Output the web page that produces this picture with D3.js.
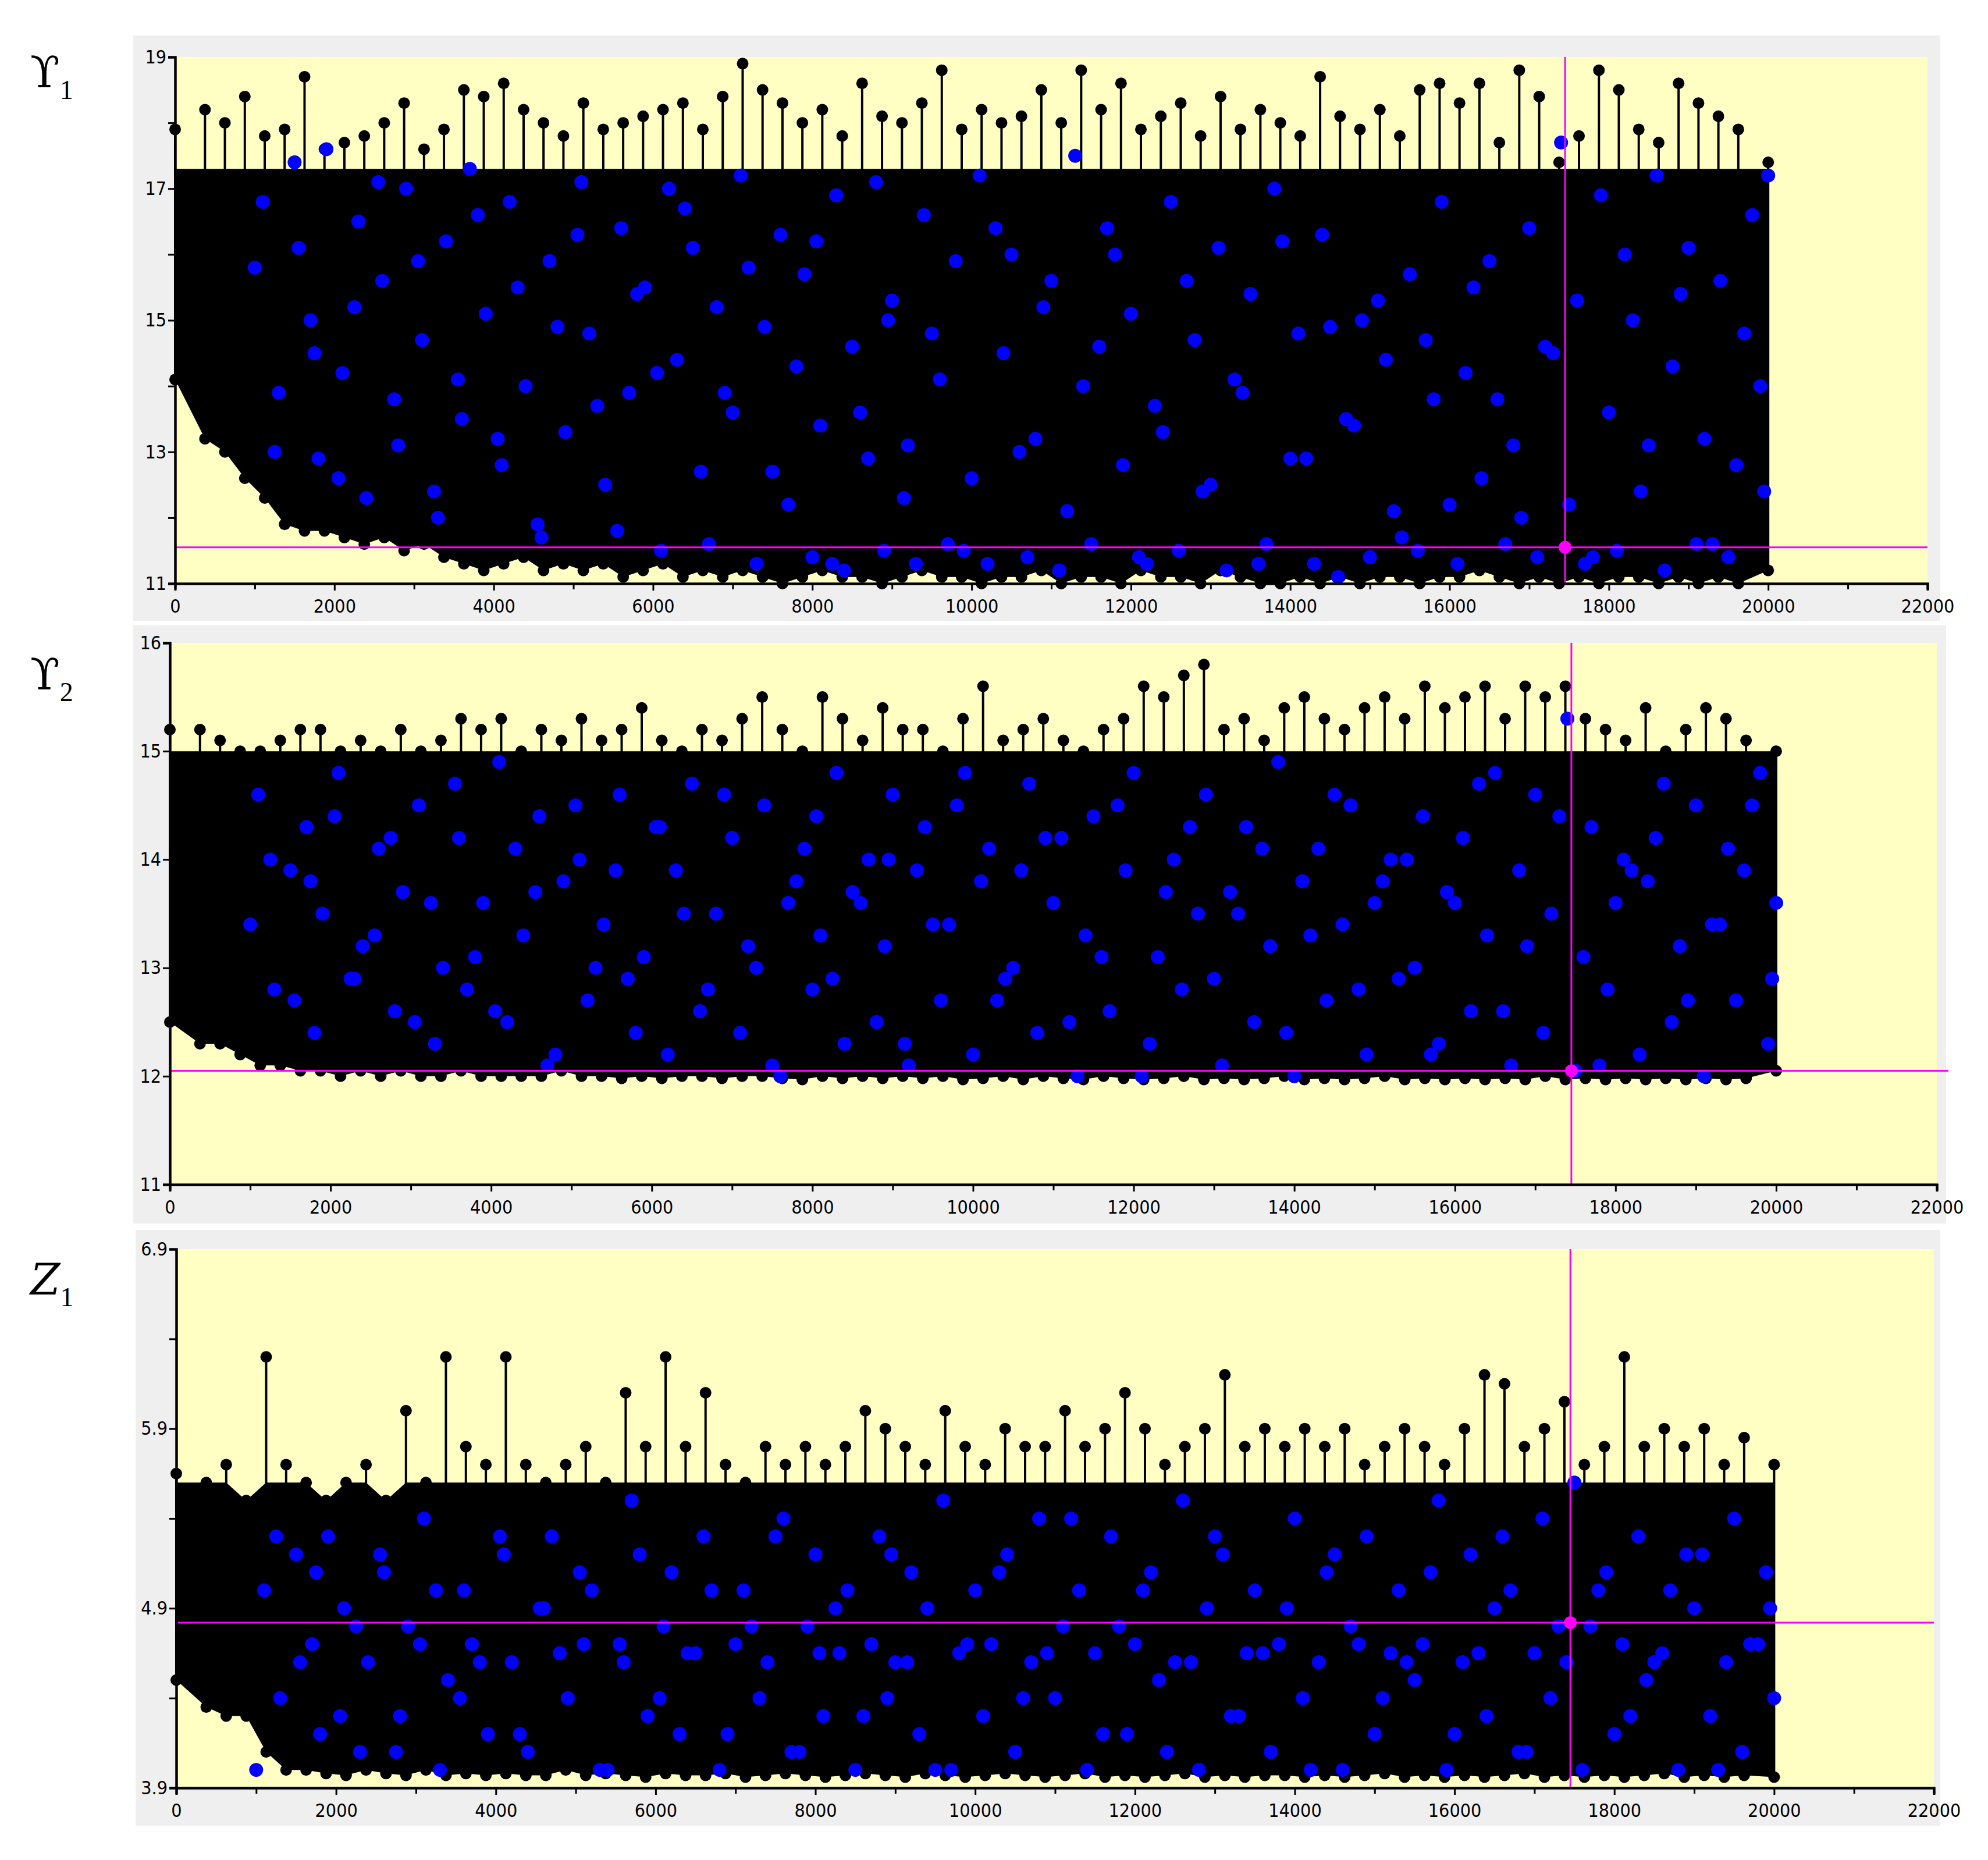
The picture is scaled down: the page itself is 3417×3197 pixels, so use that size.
<!DOCTYPE html>
<html><head><meta charset="utf-8">
<script src="https://cdn.jsdelivr.net/npm/d3@7"></script>
<style>body{margin:0;background:#fff}</style></head>
<body><svg id="c" width="3417" height="3197"></svg>
<script>
// per-250-iteration envelope (max / min) of the black trace
const hi1=[17.9,18.2,18.0,18.4,17.8,17.9,18.7,17.6,17.7,17.8,18.0,18.3,17.6,17.9,18.5,18.4,18.6,18.2,18.0,17.8,18.3,17.9,18.0,18.1,18.2,18.3,17.9,18.4,18.9,18.5,18.3,18.0,18.2,17.8,18.6,18.1,18.0,18.3,18.8,17.9,18.2,18.0,18.1,18.5,18.0,18.8,18.2,18.6,17.9,18.1,18.3,17.8,18.4,17.9,18.2,18.0,17.8,18.7,18.1,17.9,18.2,17.8,18.5,18.6,18.3,18.6,17.7,18.8,18.4,17.4,17.8,18.8,18.5,17.9,17.7,18.6,18.3,18.1,17.9,17.4];
const lo1=[14.1,13.2,13.0,12.6,12.3,11.9,11.8,11.8,11.7,11.6,11.7,11.5,11.6,11.4,11.3,11.2,11.3,11.4,11.2,11.3,11.2,11.3,11.1,11.2,11.3,11.1,11.2,11.1,11.2,11.1,11.0,11.1,11.2,11.1,11.1,11.0,11.1,11.2,11.1,11.1,11.0,11.1,11.1,11.2,11.0,11.1,11.1,11.0,11.2,11.1,11.1,11.0,11.2,11.1,11.0,11.0,11.1,11.0,11.1,11.0,11.1,11.1,11.0,11.1,11.1,11.2,11.1,11.0,11.1,11.0,11.1,11.0,11.1,11.1,11.0,11.1,11.0,11.1,11.0,11.2];
const hi2=[15.2,15.2,15.1,15.0,15.0,15.1,15.2,15.2,15.0,15.1,15.0,15.2,15.0,15.1,15.3,15.2,15.3,15.0,15.2,15.1,15.3,15.1,15.2,15.4,15.1,15.0,15.2,15.1,15.3,15.5,15.2,15.0,15.5,15.3,15.1,15.4,15.2,15.2,15.0,15.3,15.6,15.1,15.2,15.3,15.1,15.0,15.2,15.3,15.6,15.5,15.7,15.8,15.2,15.3,15.1,15.4,15.5,15.3,15.2,15.4,15.5,15.3,15.6,15.4,15.5,15.6,15.3,15.6,15.5,15.6,15.3,15.2,15.1,15.4,15.0,15.2,15.4,15.3,15.1,15.0];
const lo2=[12.5,12.3,12.3,12.2,12.1,12.1,12.05,12.05,12.0,12.05,12.0,12.05,12.0,12.0,12.05,12.0,12.0,12.0,12.0,12.05,12.0,12.0,11.98,12.0,11.98,12.0,12.0,11.98,12.0,12.0,11.98,11.97,12.0,11.98,12.0,11.98,12.0,11.98,12.0,11.97,11.98,12.0,11.97,12.0,11.98,11.97,12.0,11.98,11.97,11.98,12.0,11.97,11.98,11.97,11.98,12.0,11.97,11.98,11.97,11.98,12.0,11.97,11.98,11.97,11.98,11.97,11.98,11.97,12.0,11.97,11.98,11.97,11.98,11.97,11.98,11.97,11.98,11.97,11.98,12.05];
const hi3=[5.65,5.6,5.7,5.5,6.3,5.7,5.6,5.5,5.6,5.7,5.5,6.0,5.6,6.3,5.8,5.7,6.3,5.7,5.6,5.7,5.8,5.6,6.1,5.8,6.3,5.8,6.1,5.7,5.6,5.8,5.7,5.8,5.7,5.8,6.0,5.9,5.8,5.7,6.0,5.8,5.7,5.9,5.8,5.8,6.0,5.8,5.9,6.1,5.9,5.7,5.8,5.9,6.2,5.8,5.9,5.8,5.9,5.8,5.9,5.7,5.8,5.9,5.8,5.7,5.9,6.2,6.15,5.8,5.9,6.05,5.7,5.8,6.3,5.8,5.9,5.8,5.9,5.7,5.85,5.7];
const lo3=[4.5,4.35,4.3,4.3,4.1,4.0,4.0,3.98,3.97,4.0,3.98,3.97,4.0,3.97,3.98,3.97,3.98,3.97,3.97,4.0,3.97,3.98,3.97,3.96,3.98,3.97,3.97,3.98,3.96,3.97,3.98,3.97,3.96,3.97,3.98,3.97,3.96,3.98,3.97,3.96,3.97,3.98,3.97,3.96,3.97,3.98,3.96,3.97,3.96,3.97,3.98,3.96,3.97,3.96,3.97,3.97,3.96,3.97,3.96,3.97,3.98,3.96,3.97,3.96,3.97,3.96,3.97,3.98,3.96,3.97,3.96,3.97,3.96,3.97,3.98,3.96,3.97,3.96,3.97,3.96];
// upper edge of the solid part of each trace (individual spikes stick out above it)
const bandTop=[17.3,15.0,5.6];
// highlighted (blue) samples: iteration and value in each panel
const blueX=[1100,1300,1500,1700,1800,1900,2100,2300,2400,2600,2800,2900,3100,3300,3400,3600,3700,3900,4100,4200,4400,4600,4700,4900,5100,5200,5400,5600,5700,5900,6100,6200,6300,6500,6600,6800,7000,7100,7300,7400,7600,7700,7900,8000,8100,8300,8400,8500,8700,8800,8900,9000,9200,9300,9400,9600,9700,9800,10000,10100,10200,10400,10500,10700,10800,11000,11100,11300,11400,11500,11700,11900,12000,12200,12300,12500,12600,12800,12900,13100,13200,13400,13500,13700,13800,14000,14100,14300,14400,14600,14700,14900,15000,15200,15300,15500,15600,15800,15900,16100,16200,16400,16500,16700,16800,17000,17100,17200,17400,17500,17600,17700,17900,18000,18100,18300,18400,18600,18700,18800,19000,19100,19200,19400,19500,19600,19800,19900,20000,
 1000,1250,1550,1750,2050,2250,2550,2750,3050,3250,3550,3800,4050,4300,4550,4800,5050,5300,5550,5800,6050,6400,6700,6900,7200,7500,7800,8050,8250,8600,8950,9150,9500,9900,10300,10600,10900,11200,11600,11800,12100,12400,12700,13000,13300,13600,13900,14200,14500,14800,15100,15400,15700,16000,16300,16600,16900,17300,17800,18200,18500,18900,19300,19700,19950];
const blueY1=[16.8,13.9,17.4,15.0,12.9,17.6,14.2,16.5,12.3,15.6,13.1,17.0,14.7,12.0,16.2,13.5,17.3,15.1,12.8,16.8,14.0,11.7,15.9,13.3,17.1,14.8,12.5,16.4,13.9,15.5,11.5,17.0,14.4,16.1,12.7,15.2,13.6,17.2,11.3,14.9,16.3,12.2,15.7,11.4,13.4,16.9,11.2,14.6,12.9,17.1,11.5,15.3,13.1,11.3,16.6,14.1,11.6,15.9,12.6,17.2,11.3,14.5,16.0,11.4,13.2,15.6,11.2,17.5,14.0,11.6,16.4,12.8,15.1,11.3,13.7,16.8,11.5,14.7,12.4,16.1,11.2,13.9,15.4,11.6,17.0,12.9,14.8,11.3,16.3,11.1,13.5,15.0,11.4,14.4,12.1,15.7,11.5,13.8,16.8,11.3,14.2,12.6,15.9,11.6,13.1,16.4,11.4,14.6,17.7,12.2,15.3,11.3,16.9,13.6,11.5,15.0,12.4,17.2,11.2,14.3,16.1,11.6,13.2,15.6,11.4,12.8,16.6,14.0,17.2,
 15.8,13.0,16.1,14.5,12.6,15.2,17.1,13.8,15.9,12.4,14.1,16.6,13.2,15.5,11.9,14.9,16.3,13.7,11.8,15.4,14.2,16.7,11.6,13.9,15.8,12.7,14.3,16.2,11.3,13.6,15.0,12.3,14.8,11.5,16.4,13.0,15.2,12.1,14.6,16.0,11.4,13.3,15.6,12.5,14.1,11.3,16.2,12.9,14.9,13.4,15.3,11.7,14.7,12.2,15.5,13.8,12.0,14.5,11.4,16.0,13.1,15.4,11.6,14.8,12.4];
const blueY2=[14.6,12.8,13.9,14.3,12.4,13.5,14.8,12.9,13.2,14.1,12.6,13.7,14.5,12.3,13.0,14.2,12.8,13.6,14.9,12.5,13.3,14.4,12.1,13.8,14.0,12.7,13.4,14.6,12.9,13.1,14.3,12.2,13.9,14.7,12.6,13.5,14.2,12.4,13.0,14.5,12.0,13.6,14.1,12.8,13.3,14.8,12.3,13.7,14.0,12.5,13.2,14.6,12.1,13.9,14.3,12.7,13.4,14.5,12.2,13.8,14.1,12.9,13.0,14.7,12.4,13.6,14.2,12.0,13.3,14.4,12.6,13.9,14.8,12.3,13.1,14.0,12.8,13.5,14.6,12.1,13.7,14.3,12.5,13.2,14.9,12.0,13.8,14.1,12.7,13.4,14.5,12.2,13.6,14.0,12.9,13.0,14.4,12.3,13.7,14.2,12.6,13.3,14.8,12.1,13.9,14.6,12.4,13.5,15.3,12.05,13.1,14.3,12.8,13.6,14.0,12.2,13.8,14.7,12.5,13.2,14.5,12.0,13.4,14.1,12.7,13.9,14.8,12.3,13.6,
 13.4,14.0,12.7,13.8,14.4,12.9,13.3,14.2,12.5,13.6,14.7,13.1,12.6,14.1,13.7,12.2,14.5,13.0,13.9,12.4,14.3,13.5,12.8,14.6,13.2,12.1,13.8,14.4,12.9,13.6,14.0,12.3,13.4,14.8,12.7,13.9,14.2,12.5,13.1,14.5,12.0,13.7,14.3,12.9,13.5,14.1,12.4,13.3,14.6,12.8,13.8,14.0,12.2,13.6,14.7,12.6,13.2,14.4,12.1,13.9,14.2,12.7,13.4,14.5,12.9];
const blueY3=[5.0,4.4,5.2,4.7,4.2,5.3,4.9,4.1,4.6,5.1,4.3,4.8,5.4,4.0,4.5,5.0,4.7,4.2,5.2,4.6,4.1,4.9,5.3,4.4,4.7,5.0,4.0,4.6,5.5,4.3,4.8,5.1,4.2,4.65,5.3,4.0,4.7,5.0,4.4,4.6,5.4,4.1,4.8,5.2,4.3,4.65,5.0,4.0,4.7,5.3,4.4,4.6,5.1,4.2,4.9,5.5,4.0,4.65,5.0,4.3,4.7,5.2,4.1,4.6,5.4,4.4,4.8,5.0,4.0,4.65,5.3,4.2,4.7,5.1,4.5,4.6,5.5,4.0,4.9,5.2,4.3,4.65,5.0,4.1,4.7,5.4,4.4,4.6,5.1,4.0,4.8,5.3,4.2,4.65,5.0,4.5,4.7,5.5,4.0,4.6,5.2,4.3,4.9,5.0,4.1,4.65,5.4,4.4,4.6,5.6,4.0,4.8,5.1,4.2,4.7,5.3,4.5,4.65,5.0,4.0,4.9,5.2,4.3,4.6,5.4,4.1,4.7,5.1,4.4,4.0,5.3,
 4.6,5.1,4.3,4.8,5.2,4.1,4.7,5.0,4.4,4.6,5.3,4.2,4.9,4.65,5.1,4.0,4.7,5.2,4.4,4.65,5.0,4.2,4.8,5.3,4.1,4.65,4.9,4.3,5.2,4.6,4.0,4.7,5.1,4.4,4.65,5.4,4.2,4.8,5.0,4.1,4.6,5.3,4.3,4.65,4.9,4.0,5.2,4.7,4.4,4.6,5.1,4.2,4.65,5.3,4.1,4.8,5.0,4.3,4.6,5.2,4.0,4.7,4.9,4.4,5.1];
const crossX=[17450,17450,17450];
const crossY=[11.55,12.05,4.82];
const panelNames=["ϒ","ϒ","Z"];
const panelSubs=["1","2","1"];
const yDomains=[[11,19],[11,16],[3.9,6.9]];
const yTicks=[[11,13,15,17,19],[11,12,13,14,15,16],[3.9,4.9,5.9,6.9]];
const yMinor=[[12,14,16,18],[],[4.4,5.4,6.4]];
const xTicks=d3.range(0,22001,2000);
const xMinor=d3.range(1000,22000,2000);
const BIN=250;

const svg=d3.select("#c");
const layout=[
 {g:[229,61,3106,1006],p:[301,98,3313,1003],lab:[52,150]},
 {g:[229,1075,3116,1028],p:[292,1105,3329,2036],lab:[52,1185]},
 {g:[233,2114,3102,1024],p:[303,2147,3324,3073],lab:[52,2225]}
];
const his=[hi1,hi2,hi3], los=[lo1,lo2,lo3], bys=[blueY1,blueY2,blueY3];
layout.forEach((L,i)=>{
  svg.append("rect").attr("x",L.g[0]).attr("y",L.g[1]).attr("width",L.g[2]).attr("height",L.g[3]).attr("fill","#efefef");
  const [x0,y0,x1,y1]=L.p;
  svg.append("rect").attr("x",x0).attr("y",y0).attr("width",x1-x0).attr("height",y1-y0).attr("fill","#ffffc4");
  const x=d3.scaleLinear().domain([0,22000]).range([x0,x1]);
  const y=d3.scaleLinear().domain(yDomains[i]).range([y1,y0]);
  const clip="cl"+i;
  svg.append("clipPath").attr("id",clip).append("rect").attr("x",x0-12).attr("y",y0-12).attr("width",x1-x0+24).attr("height",y1-y0+24);
  const g=svg.append("g").attr("clip-path",`url(#${clip})`);
  const hi=his[i], lo=los[i];
  const bins=hi.map((h,k)=>({k,h,l:lo[k],t:Math.min(h,bandTop[i]),xc:k===0?0:(k===hi.length-1?20000:k*BIN+BIN/2)}));
  g.append("path").datum(bins).attr("fill","#000")
    .attr("d",d3.area().x(d=>x(d.xc)).y0(d=>y(Math.max(d.l,yDomains[i][0]))).y1(d=>y(d.t)).curve(d3.curveLinear));
  g.selectAll(".st").data(bins).join("line").attr("x1",d=>x(d.xc)).attr("x2",d=>x(d.xc))
    .attr("y1",d=>y(d.h)).attr("y2",d=>y(d.l)).attr("stroke","#000").attr("stroke-width",4);
  g.selectAll(".mh").data(bins).join("circle").attr("cx",d=>x(d.xc)).attr("cy",d=>y(d.h)).attr("r",10).attr("fill","#000");
  g.selectAll(".ml").data(bins).join("circle").attr("cx",d=>x(d.xc)).attr("cy",d=>y(d.l)).attr("r",10).attr("fill","#000");
  const by=bys[i]; const n=Math.min(blueX.length,by.length);
  g.selectAll(".b").data(d3.range(n)).join("circle").attr("cx",k=>x(blueX[k])).attr("cy",k=>y(by[k])).attr("r",12).attr("fill","#0000ff");
  svg.append("line").attr("x1",x(crossX[i])).attr("x2",x(crossX[i])).attr("y1",y0).attr("y2",y1).attr("stroke","#ff00ff").attr("stroke-width",3);
  svg.append("line").attr("x1",x0).attr("x2",x1+(i==1?20:0)).attr("y1",y(crossY[i])).attr("y2",y(crossY[i])).attr("stroke","#ff00ff").attr("stroke-width",3);
  svg.append("circle").attr("cx",x(crossX[i])).attr("cy",y(crossY[i])).attr("r",11).attr("fill","#ff00ff");
  const fmt=d=>String(d);
  svg.append("g").attr("transform",`translate(${x0},0)`).call(d3.axisLeft(y).tickValues(yTicks[i]).tickFormat(fmt).tickSize(12));
  svg.append("g").attr("transform",`translate(${x0},0)`).call(d3.axisLeft(y).tickValues(yMinor[i]).tickFormat("").tickSize(12));
  const xa=svg.append("g").attr("transform",`translate(0,${y1})`).call(d3.axisBottom(x).tickValues(xTicks).tickFormat(fmt).tickSize(12));
  svg.append("g").attr("transform",`translate(0,${y1})`).call(d3.axisBottom(x).tickValues(xMinor).tickFormat("").tickSize(10));
  svg.selectAll(".domain").attr("stroke","#000").attr("stroke-width",4);
  svg.selectAll(".tick line").attr("stroke","#000").attr("stroke-width",3);
  svg.selectAll(".tick text").attr("font-family","'Liberation Sans Narrow','DejaVu Sans Condensed',sans-serif").attr("font-size",32).attr("fill","#000");
  xa.selectAll(".tick text").attr("dy","1.1em");
  const t=svg.append("text").attr("x",L.lab[0]).attr("y",L.lab[1]).attr("font-family","'DejaVu Serif','Liberation Serif',serif").attr("font-size",74).attr("fill","#000");
  t.append("tspan").text(panelNames[i]).attr("font-style",i==2?"italic":"normal");
  t.append("tspan").text(panelSubs[i]).attr("font-size",46).attr("dy",20).attr("font-family","'Liberation Serif',serif");
});
</script></body></html>
